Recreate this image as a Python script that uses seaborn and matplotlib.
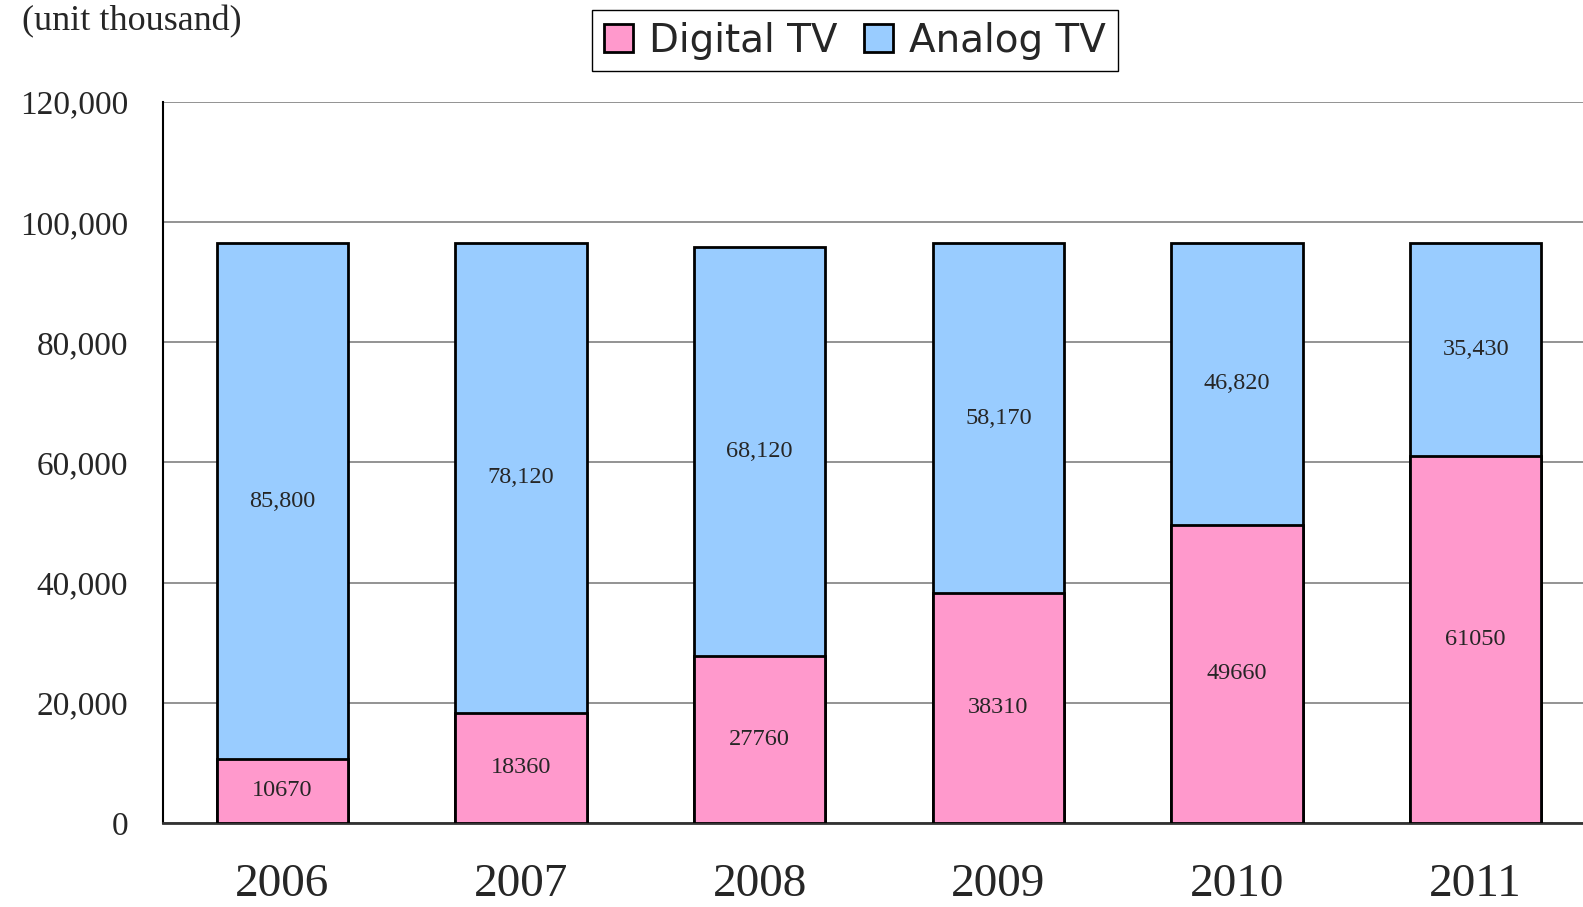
import numpy as np
import pandas as pd
import matplotlib
matplotlib.use("Agg")
import matplotlib.pyplot as plt
from matplotlib.patches import Patch
from matplotlib.ticker import FuncFormatter, FixedLocator
import seaborn as sns

# data (unit thousand)
years = ["2006", "2007", "2008", "2009", "2010", "2011"]
digital_tv = [10670, 18360, 27760, 38310, 49660, 61050]
analog_tv = [85800, 78120, 68120, 58170, 46820, 35430]

PINK = "#FF99CC"
BLUE = "#99CCFF"

df = pd.DataFrame({"Year": years, "Digital TV": digital_tv, "Analog TV": analog_tv})
df["Total"] = df["Digital TV"] + df["Analog TV"]

sns.set_style("white")
plt.rcParams["font.family"] = ["Liberation Serif", "DejaVu Serif"]

fig = plt.figure(figsize=(15.83, 9.07), dpi=100)
ax = fig.add_axes([0.103, 0.0926, 0.9046, 0.795])

# stacked bars: total (analog on top) first, digital drawn over it
sns.barplot(data=df, x="Year", y="Total", color=BLUE, saturation=1, width=0.55,
            edgecolor="black", linewidth=2, ax=ax, zorder=3)
sns.barplot(data=df, x="Year", y="Digital TV", color=PINK, saturation=1, width=0.55,
            edgecolor="black", linewidth=2, ax=ax, zorder=4)

# value labels
for i, row in df.iterrows():
    ax.text(i, row["Digital TV"] / 2, f"{row['Digital TV']}", ha="center", va="center",
            fontsize=17.5, zorder=5)
    ax.text(i, row["Digital TV"] + row["Analog TV"] / 2, f"{row['Analog TV']:,}",
            ha="center", va="center", fontsize=17.5, zorder=5)

ax.set_xlim(-0.5, len(years) - 0.5)
ax.set_ylim(0, 120000)
ax.yaxis.set_major_locator(FixedLocator(np.arange(0, 120001, 20000)))
ax.yaxis.set_major_formatter(FuncFormatter(lambda v, p: f"{int(v):,}"))
ax.grid(axis="y", color="#808080", linewidth=1.2, zorder=0)
ax.set_axisbelow(True)

ax.set_xlabel("")
ax.set_ylabel("")
ax.tick_params(axis="y", length=0, pad=25, labelsize=24)
ax.tick_params(axis="x", length=0, pad=29, labelsize=34)
ax.xaxis.set_minor_locator(FixedLocator(np.arange(0.5, len(years) - 1, 1)))
ax.tick_params(axis="x", which="minor", direction="in", length=10, width=1, color="#555555")

for side in ["top", "right"]:
    ax.spines[side].set_visible(False)
ax.spines["left"].set_color("black")
ax.spines["left"].set_linewidth(1.5)
ax.spines["bottom"].set_color("#333333")
ax.spines["bottom"].set_linewidth(2)

fig.text(0.014, 0.976, "(unit thousand)", fontsize=26, ha="left", va="center")

handles = [Patch(facecolor=PINK, edgecolor="black", linewidth=2, label="Digital TV"),
           Patch(facecolor=BLUE, edgecolor="black", linewidth=2, label="Analog TV")]
leg = fig.legend(handles=handles, loc="center", bbox_to_anchor=(0.54, 0.955), ncol=2,
                 frameon=True, fancybox=False, edgecolor="black", framealpha=1,
                 prop={"family": ["DejaVu Sans"], "size": 28},
                 handlelength=0.75, handleheight=0.75, handletextpad=0.4,
                 columnspacing=0.7, borderpad=0.3, borderaxespad=0)
leg.get_frame().set_linewidth(1)

fig.savefig("out.png", dpi=100)
